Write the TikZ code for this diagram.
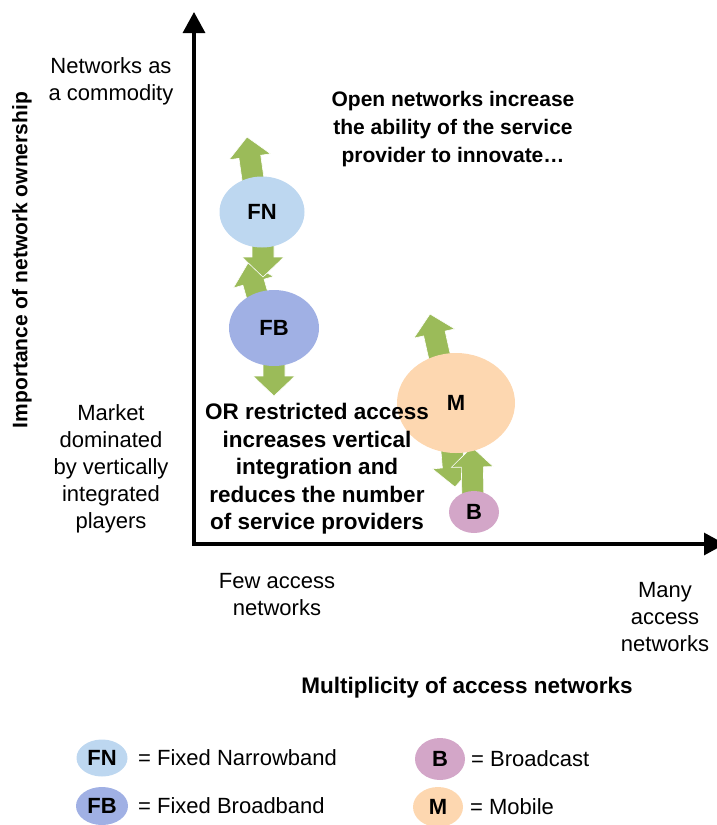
\documentclass[tikz,border=0pt]{standalone}
\usepackage{fontspec}
\setmainfont{Liberation Sans}
\usetikzlibrary{shapes.geometric,calc,arrows.meta}
\definecolor{cFN}{RGB}{189,215,240}
\definecolor{cFB}{RGB}{160,176,228}
\definecolor{cM}{RGB}{253,215,176}
\definecolor{cB}{RGB}{211,166,200}
\definecolor{cG}{RGB}{155,187,89}
\tikzset{
  bubble/.style={ellipse, inner sep=0pt, font=\fontsize{22}{26}\selectfont\bfseries},
  plaintxt/.style={align=center, font=\fontsize{22}{27}\selectfont, inner sep=0pt},
  boldtxt/.style={align=center, font=\fontsize{21.5}{28}\selectfont\bfseries, inner sep=0pt},
  legtxt/.style={anchor=west, font=\fontsize{22}{26}\selectfont, inner sep=0pt},
  axisline/.style={line width=3.2pt, line join=miter, {Triangle[length=21pt,width=22pt]}-{Triangle[length=21pt,width=22pt]}},
  garrow/.style={fill=cG, draw=white, line width=0.6pt, line join=miter},
}
\newcommand{\blockarrow}[2]{%
  \coordinate (ba) at ($(#2)!20pt!(#1)$);
  \fill[garrow] ($(#1)!11pt!90:(#2)$) -- ($(ba)!11pt!-90:(#1)$) -- ($(ba)!21pt!-90:(#1)$) -- (#2)
    -- ($(ba)!21pt!90:(#1)$) -- ($(ba)!11pt!90:(#1)$) -- ($(#1)!11pt!-90:(#2)$) -- cycle;}
\begin{document}
\begin{tikzpicture}[x=1pt,y=-1pt]
\useasboundingbox (0,0) rectangle (717,825);
% axes
\coordinate (ytop) at (194,12);
\coordinate (O) at (194,544);
\coordinate (xend) at (725,544);
\draw[axisline] (ytop) -- (O) -- (xend);
% arrows
\coordinate (fnus) at (256,200); \coordinate (fnut) at (247,137);
\coordinate (fnds) at (263,230); \coordinate (fndt) at (263,277);
\coordinate (fbus) at (262,312); \coordinate (fbut) at (248,263);
\coordinate (fbds) at (274,340); \coordinate (fbdt) at (274,396);
\coordinate (mus) at (443,372); \coordinate (mut) at (430,314);
\coordinate (mds) at (450,427); \coordinate (mdt) at (455,487);
\coordinate (bus) at (473,505); \coordinate (but) at (472,447);
\blockarrow{fnus}{fnut}
\blockarrow{fbus}{fbut}
\blockarrow{fnds}{fndt}
\blockarrow{fbds}{fbdt}
\blockarrow{mus}{mut}
\blockarrow{mds}{mdt}
\blockarrow{bus}{but}
% bubbles
\node[bubble, fill=cFN, minimum width=85pt, minimum height=71pt] (fn) at (262,212) {FN};
\node[bubble, fill=cFB, minimum width=90pt, minimum height=76pt] (fb) at (274,328) {FB};
\node[bubble, fill=cM, minimum width=118pt, minimum height=100pt] (m) at (456,403) {M};
\node[bubble, fill=cB, minimum width=50pt, minimum height=42pt] (b) at (474,512) {B};
% texts
\node[plaintxt] (comm) at (111,81) {Networks as\\a commodity};
\node[plaintxt] (mkt) at (111,469) {Market\\dominated\\by vertically\\integrated\\players};
\node[plaintxt] (few) at (277,595) {Few access\\networks};
\node[plaintxt] (many) at (665,617) {Many\\access\\networks};
\node[boldtxt, font=\fontsize{21}{28}\selectfont\bfseries, rotate=90] (ylab) at (22,260) {Importance of network ownership};
\node[boldtxt, font=\fontsize{22.5}{28}\selectfont\bfseries] (xlab) at (467,688) {Multiplicity of access networks};
\node[boldtxt, font=\fontsize{21}{28}\selectfont\bfseries] (open) at (453,129) {Open networks increase\\the ability of the service\\provider to innovate\ldots};
\node[boldtxt, font=\fontsize{22.5}{27.5}\selectfont\bfseries] (restr) at (317,469) {OR restricted access\\increases vertical\\integration and\\reduces the number\\of service providers};
% legend
\node[bubble, fill=cFN, minimum width=51pt, minimum height=37pt] (lfn) at (102,758) {FN};
\node[legtxt] (tfn) at (138,758) {= Fixed Narrowband};
\node[bubble, fill=cFB, minimum width=52pt, minimum height=38pt] (lfb) at (102,806) {FB};
\node[legtxt] (tfb) at (138,806) {= Fixed Broadband};
\node[bubble, fill=cB, minimum width=50pt, minimum height=42pt] (lb) at (440,759) {B};
\node[legtxt] (tb) at (471,759) {= Broadcast};
\node[bubble, fill=cM, minimum width=50pt, minimum height=40pt] (lm) at (438,807) {M};
\node[legtxt] (tm) at (470,807) {= Mobile};
\end{tikzpicture}
\end{document}
